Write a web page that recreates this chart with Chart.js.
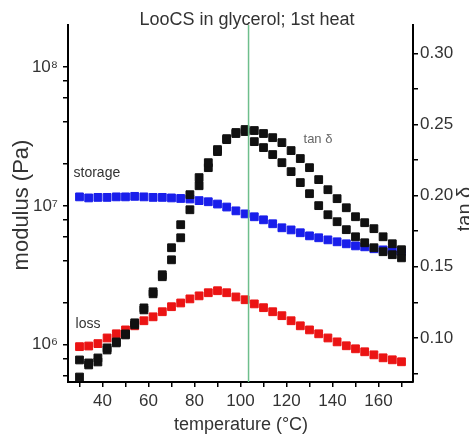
<!DOCTYPE html>
<html>
<head>
<meta charset="utf-8">
<script src="https://cdn.jsdelivr.net/npm/chart.js@4.4.0/dist/chart.umd.min.js"></script>
<style>
	html, body { margin: 0; padding: 0; background: #fff; }
	#wrap { width: 469px; height: 444px; }
</style>
</head>
<body>
<div id="wrap"><canvas id="dmaChart"></canvas></div>
<script>
// temperaturas (°C), un punto cada 4 grados
const temps = [30, 34, 38, 42, 46, 50, 54, 58, 62, 66, 70, 74, 78, 82, 86, 90, 94, 98,
	102, 106, 110, 114, 118, 122, 126, 130, 134, 138, 142, 146, 150, 154, 158, 162, 166, 170];

// modulo de almacenamiento (Pa)
const storage = [1.16e7, 1.14e7, 1.15e7, 1.15e7, 1.16e7, 1.16e7, 1.17e7, 1.16e7, 1.15e7, 1.15e7,
	1.14e7, 1.13e7, 1.12e7, 1.09e7, 1.07e7, 1.03e7, 9.8e6, 9.2e6, 8.75e6, 8.34e6, 7.93e6, 7.43e6,
	6.95e6, 6.71e6, 6.40e6, 6.08e6, 5.89e6, 5.69e6, 5.51e6, 5.33e6, 5.15e6, 5.07e6, 4.91e6,
	4.82e6, 4.74e6, 4.67e6];

// modulo de perdida (Pa)
const loss = [9.7e5, 9.8e5, 1.02e6, 1.12e6, 1.20e6, 1.28e6, 1.37e6, 1.49e6, 1.59e6, 1.73e6,
	1.88e6, 2.00e6, 2.14e6, 2.25e6, 2.37e6, 2.45e6, 2.37e6, 2.21e6, 2.11e6, 1.97e6, 1.85e6,
	1.73e6, 1.62e6, 1.49e6, 1.37e6, 1.28e6, 1.20e6, 1.12e6, 1.05e6, 9.84e5, 9.36e5, 8.91e5,
	8.47e5, 8.06e5, 7.80e5, 7.55e5];

// tan delta, las dos ramas de la curva
const tanUpper = [0.0845, 0.0824, 0.0859, 0.0930, 0.0972, 0.1028, 0.1106, 0.1211, 0.1324, 0.1444,
	0.1634, 0.1796, 0.2007, 0.2127, 0.2232, 0.2324, 0.2401, 0.2444, 0.2465, 0.2458, 0.2437,
	0.2408, 0.2373, 0.2317, 0.2261, 0.2197, 0.2113, 0.2042, 0.1979, 0.1915, 0.1852, 0.1810,
	0.1768, 0.1711, 0.1662, 0.1620];
const tanLower = [0.0725, 0.0810, 0.0831, 0.0915, 0.0965, 0.1021, 0.1092, 0.1197, 0.1310, 0.1430,
	0.1549, 0.1704, 0.1901, 0.2070, 0.2197, 0.2310, 0.2394, 0.2437, 0.2451, 0.2380, 0.2338,
	0.2289, 0.2232, 0.2169, 0.2092, 0.2014, 0.1930, 0.1866, 0.1817, 0.1761, 0.1711, 0.1669,
	0.1634, 0.1606, 0.1585, 0.1563];

// marcas de los ejes
const xTicks = [30, 40, 50, 60, 70, 80, 90, 100, 110, 120, 130, 140, 150, 160, 170];
const modTicks = [6e5, 8e5, 1e6, 2e6, 4e6, 6e6, 8e6, 1e7, 2e7, 4e7, 6e7, 8e7, 1e8];
const tanTicks = [0.075, 0.10, 0.125, 0.15, 0.175, 0.20, 0.225, 0.25, 0.275, 0.30];
const powLabels = {1e6: "10\u2076", 1e7: "10\u2077", 1e8: "10\u2078"};

// linea vertical verde (temperatura del pico)
const peakTemp = [103.5];

const toPoints = (values) => temps.map((t, i) => ({x: t, y: values[i]}));

const FONT = "'Liberation Sans', Arial, sans-serif";
const TEXT = "#333";

const pointSet = (label, values, color, axis) => ({
	label: label,
	data: toPoints(values),
	yAxisID: axis,
	showLine: false,
	pointStyle: "rect",
	pointRadius: 5.5,
	pointBorderWidth: 1,
	pointBackgroundColor: color,
	pointBorderColor: color,
});

// textos: titulo, ejes y etiquetas de las curvas
const textPlugin = {
	id: "textos",
	afterDatasetsDraw(chart) {
		const {ctx, scales} = chart;
		const x = scales.x;
		ctx.save();
		// linea verde
		ctx.strokeStyle = "rgb(110, 190, 140)";
		ctx.lineWidth = 1.5;
		peakTemp.forEach((t) => {
			const px = x.getPixelForValue(t);
			ctx.beginPath();
			ctx.moveTo(px, chart.chartArea.top);
			ctx.lineTo(px, chart.chartArea.bottom);
			ctx.stroke();
		});

		ctx.fillStyle = TEXT;
		ctx.textBaseline = "middle";
		ctx.textAlign = "center";
		ctx.font = `18px ${FONT}`;
		ctx.fillText("LooCS in glycerol; 1st heat", 247, 20);

		ctx.font = `18px ${FONT}`;
		ctx.fillText("temperature (\u00B0C)", 241, 425);

		ctx.save();
		ctx.translate(22, 205);
		ctx.rotate(-Math.PI / 2);
		ctx.font = `22px ${FONT}`;
		ctx.fillText("modulus (Pa)", 0, 0);
		ctx.restore();

		ctx.save();
		ctx.translate(465, 209);
		ctx.rotate(-Math.PI / 2);
		ctx.font = `20px ${FONT}`;
		ctx.fillText("tan \u03B4", 0, 0);
		ctx.restore();

		// etiquetas de las series
		ctx.textAlign = "left";
		ctx.font = `14px ${FONT}`;
		ctx.fillText("storage", x.getPixelForValue(27.4), scales.yMod.getPixelForValue(1.73e7));
		ctx.fillText("loss", x.getPixelForValue(28.3), scales.yMod.getPixelForValue(1.42e6));
		ctx.fillStyle = "#666";
		ctx.font = `13px ${FONT}`;
		ctx.fillText("tan \u03B4", x.getPixelForValue(127.4), scales.yTan.getPixelForValue(0.2394));
		ctx.restore();
	},
};

const axisGrid = {drawOnChartArea: false, drawTicks: true, tickLength: 5, color: "#000", lineWidth: 1.5};
const axisBorder = {display: true, color: "#000", width: 2};

const config = {
	type: "line",
	data: {
		datasets: [
			pointSet("tan delta", tanUpper, "#111", "yTan"),
			pointSet("tan delta 2", tanLower, "#111", "yTan"),
			pointSet("storage", storage, "rgb(25, 30, 235)", "yMod"),
			pointSet("loss", loss, "rgb(235, 20, 20)", "yMod"),
		],
	},
	options: {
		responsive: false,
		animation: false,
		layout: {padding: {top: 25, left: 0, right: 0, bottom: 0}},
		plugins: {
			legend: {display: false},
			tooltip: {enabled: false},
			title: {display: false},
		},
		scales: {
			x: {
				type: "linear",
				min: 25,
				max: 175,
				afterFit: (s) => { s.height = 62; },
				afterBuildTicks: (s) => { s.ticks = xTicks.map((v) => ({value: v})); },
				ticks: {
					autoSkip: false,
					maxRotation: 0,
					padding: 4,
					color: TEXT,
					font: {family: FONT, size: 17},
					callback: (v) => (v % 20 === 0 ? v : ""),
				},
				grid: axisGrid,
				border: axisBorder,
			},
			yMod: {
				type: "logarithmic",
				position: "left",
				min: 5.4e5,
				max: 2e8,
				afterFit: (s) => { s.width = 68; },
				afterBuildTicks: (s) => { s.ticks = modTicks.map((v) => ({value: v})); },
				ticks: {
					autoSkip: false,
					padding: 5,
					color: TEXT,
					font: {family: FONT, size: 17},
					callback: (v) => powLabels[v] || "",
				},
				grid: axisGrid,
				border: axisBorder,
			},
			yTan: {
				type: "linear",
				position: "right",
				min: 0.069,
				max: 0.32,
				afterFit: (s) => { s.width = 56; },
				afterBuildTicks: (s) => { s.ticks = tanTicks.map((v) => ({value: v})); },
				ticks: {
					autoSkip: false,
					padding: 2,
					color: TEXT,
					font: {family: FONT, size: 17},
					callback: (v) => (Math.round(v * 1000) % 50 === 0 ? v.toFixed(2) : ""),
				},
				grid: axisGrid,
				border: axisBorder,
			},
		},
	},
	plugins: [textPlugin],
};

const canvas = document.getElementById("dmaChart");
canvas.width = 469;
canvas.height = 444;
new Chart(canvas.getContext("2d"), config);
</script>
</body>
</html>
